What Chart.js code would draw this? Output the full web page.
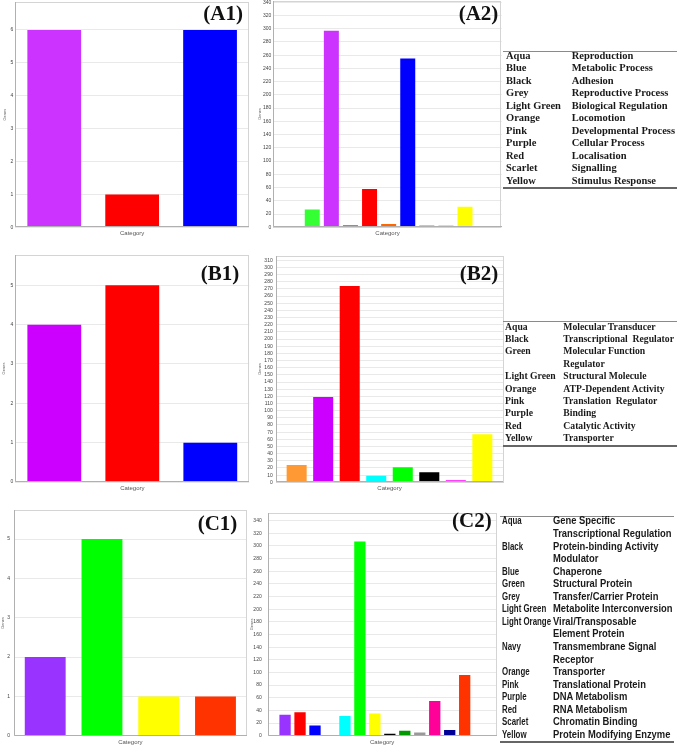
<!DOCTYPE html>
<html><head><meta charset="utf-8">
<script src="https://cdn.jsdelivr.net/npm/chart.js@4/dist/chart.umd.min.js"></script>
<style>
html,body{margin:0;padding:0;background:#fff;width:677px;height:746px;overflow:hidden;position:relative}
canvas{position:absolute}
.plabel{position:absolute;font-family:"Liberation Serif","Times New Roman",serif;font-weight:bold;font-size:21px;line-height:21px;text-align:right;width:80px;color:#111;white-space:nowrap}
.lt{position:absolute;white-space:pre;color:#1a1a1a;font-weight:bold;transform-origin:0 50%}
.rule{position:absolute}
</style>
</head><body>
<script>
// ---------- DATA ----------
const a1Labels = ['Cellular Process','Localisation','Metabolic Process'];
const a1Values = [6, 1, 6];
const a1Colors = ['#cc33ff','#ff0000','#0000ff'];

const a2Labels = ['Adhesion','Biological Regulation','Cellular Process','Developmental Process','Localisation','Locomotion','Metabolic Process','Reproduction','Reproductive Process','Stimulus Response','Signalling'];
const a2Values = [2, 27, 297, 3, 58, 5, 255, 3, 3, 31, 2];
const a2Colors = ['#999999','#33ff33','#cc33ff','#ff00ff','#ff0000','#ff6600','#0000ff','#00ffff','#cccccc','#ffff00','#cc6666'];

const b1Labels = ['Binding','Catalytic Activity','Transporter'];
const b1Values = [4, 5, 1];
const b1Colors = ['#cc00ff','#ff0000','#0000ff'];

const b2Labels = ['ATP-Dependent Activity','Binding','Catalytic Activity','Molecular Transducer','Structural Molecule','Transcriptional Regulator','Translation Regulator','Transporter'];
const b2Values = [24, 119, 274, 9, 21, 14, 3, 67];
const b2Colors = ['#ff9933','#cc00ff','#ff0000','#00ffff','#00ff00','#000000','#ff00ff','#ffff00'];

const c1Labels = ['DNA Metabolism','Metabolite Interconversion','Protein Modifying Enzyme','Transporter'];
const c1Values = [2, 5, 1, 1];
const c1Colors = ['#9933ff','#00ff00','#ffff00','#ff3300'];

const c2Labels = ['DNA Metabolism','RNA Metabolism','Chaperone','Chromatin Binding','Gene Specific Transcriptional Regulation','Metabolite Interconversion','Protein Modifying Enzyme','Protein-binding Activity Modulator','Structural Protein','Transfer/Carrier Protein','Translational Protein','Transmembrane Signal Receptor','Transporter','Viral/Transposable Element Protein'];
const c2Values = [33, 37, 16, 1, 31, 307, 35, 3, 8, 5, 55, 9, 96, 1];
const c2Colors = ['#9933ff','#ff0000','#0000ff','#993333','#00ffff','#00ff00','#ffff00','#000000','#009900','#999999','#ff0099','#000099','#ff3300','#ffcc66'];

const legendA = [['Aqua','Reproduction'],['Blue','Metabolic Process'],['Black','Adhesion'],['Grey','Reproductive Process'],['Light Green','Biological Regulation'],['Orange','Locomotion'],['Pink','Developmental Process'],['Purple','Cellular Process'],['Red','Localisation'],['Scarlet','Signalling'],['Yellow','Stimulus Response']];
const legendB = [['Aqua','Molecular Transducer'],['Black','Transcriptional  Regulator'],['Green','Molecular Function\nRegulator'],['Light Green','Structural Molecule'],['Orange','ATP-Dependent Activity'],['Pink','Translation  Regulator'],['Purple','Binding'],['Red','Catalytic Activity'],['Yellow','Transporter']];
const legendC = [['Aqua','Gene Specific\nTranscriptional Regulation'],['Black','Protein-binding Activity\nModulator'],['Blue','Chaperone'],['Green','Structural Protein'],['Grey','Transfer/Carrier Protein'],['Light Green','Metabolite Interconversion'],['Light Orange','Viral/Transposable\nElement Protein'],['Navy','Transmembrane Signal\nReceptor'],['Orange','Transporter'],['Pink','Translational Protein'],['Purple','DNA Metabolism'],['Red','RNA Metabolism'],['Scarlet','Chromatin Binding'],['Yellow','Protein Modifying Enzyme']];

// ---------- CHARTS ----------
const framePlugin = {
  id: 'frame',
  afterDatasetsDraw(chart) {
    const {ctx, chartArea: a} = chart;
    ctx.save();
    ctx.lineWidth = 1;
    ctx.strokeStyle = '#d4d4d4';
    ctx.strokeRect(Math.round(a.left) + 0.5, Math.round(a.top) + 0.5, Math.round(a.right - a.left) - 1, Math.round(a.bottom - a.top) - 1);
    ctx.strokeStyle = '#b0b0b0';
    ctx.beginPath();
    ctx.moveTo(Math.round(a.left) + 0.5, Math.round(a.top));
    ctx.lineTo(Math.round(a.left) + 0.5, Math.round(a.bottom) - 0.5);
    ctx.lineTo(Math.round(a.right), Math.round(a.bottom) - 0.5);
    ctx.stroke();
    ctx.restore();
  }
};

function build(g, labels, values, colors, yMax, yStep, xMin, xMax, barPct, tickPad) {
  const cx = g.cx, cy = Math.floor(g.pt - 6);
  const cw = Math.ceil(g.pr + 2 - cx), ch = Math.ceil(g.catY + 6 - cy);
  const cv = document.createElement('canvas');
  cv.width = cw; cv.height = ch;
  cv.style.left = cx + 'px'; cv.style.top = cy + 'px';
  cv.style.width = cw + 'px'; cv.style.height = ch + 'px';
  document.body.appendChild(cv);
  const bottomEdge = cy + ch;
  new Chart(cv, {
    type: 'bar',
    data: {
      labels: labels,
      datasets: [{
        data: values.map((v, i) => ({x: i, y: v})),
        backgroundColor: colors,
        borderWidth: 0,
        barPercentage: barPct,
        categoryPercentage: 1
      }]
    },
    options: {
      responsive: false, animation: false, devicePixelRatio: 1,
      layout: {padding: {left: 0, top: g.pt - cy, right: cx + cw - g.pr, bottom: 0}},
      plugins: {legend: {display: false}, tooltip: {enabled: false}},
      scales: {
        x: {
          type: 'linear', min: xMin, max: xMax, offset: false,
          grid: {display: false, offset: false}, border: {display: false},
          ticks: {display: false},
          afterBuildTicks(s) { s.ticks = []; },
          title: {display: true, text: 'Category', color: '#555', font: {size: 6, family: 'Liberation Sans'}, padding: {top: 0, bottom: 6 - 3.6}},
          afterFit(s) { s.height = bottomEdge - g.pb; }
        },
        y: {
          min: 0, max: yMax,
          grid: {color: '#e9e9e9', drawTicks: false}, border: {display: false},
          ticks: {stepSize: yStep, includeBounds: false, color: '#444', font: {size: 5, family: 'Liberation Sans'}, padding: tickPad, autoSkip: false},
          afterBuildTicks(s) { s.ticks = s.ticks.filter(t => Math.abs(t.value / yStep - Math.round(t.value / yStep)) < 1e-6); },
          title: {display: true, text: 'Genes', color: '#555', font: {size: 4, family: 'Liberation Sans'}, padding: {top: g.gx - cx - 2.4, bottom: 0}},
          afterFit(s) { s.width = g.pl - cx; }
        }
      }
    },
    plugins: [framePlugin]
  });
}

build({cx: 0, pl: 15.3, pt: 2, pr: 249, pb: 227.3, gx: 5, catY: 233}, a1Labels, a1Values, a1Colors, 6.85, 1, -0.5, 2.5, 0.69, 2);
build({cx: 252, pl: 273.3, pt: 0.5, pr: 501.7, pb: 227.3, gx: 260, catY: 233}, a2Labels, a2Values, a2Colors, 342.5, 20, -1.04, 10.92, 0.785, 2);
build({cx: 0, pl: 15.3, pt: 255, pr: 249.3, pb: 482, gx: 4, catY: 487.5}, b1Labels, b1Values, b1Colors, 5.77, 1, -0.5, 2.5, 0.69, 2);
build({cx: 252, pl: 275.7, pt: 255.5, pr: 503.3, pb: 482.3, gx: 260, catY: 487.5}, b2Labels, b2Values, b2Colors, 316.6, 10, -0.79, 7.79, 0.755, 3);
build({cx: 0, pl: 14, pt: 509, pr: 246.7, pb: 735.7, gx: 3, catY: 742}, c1Labels, c1Values, c1Colors, 5.74, 1, -0.55, 3.55, 0.72, 4);
build({cx: 249, pl: 267.7, pt: 510, pr: 496.7, pb: 735.7, gx: 252, catY: 742}, c2Labels, c2Values, c2Colors, 352, 20, -1.16, 14.14, 0.755, 6);

// ---------- PANEL LABELS ----------
function panelLabel(text, right, center) {
  const d = document.createElement('div');
  d.className = 'plabel';
  d.textContent = text;
  d.style.left = (right - 80) + 'px';
  d.style.top = (center - 12.2) + 'px';
  document.body.appendChild(d);
}
panelLabel('(A1)', 243, 15);
panelLabel('(A2)', 498.3, 15);
panelLabel('(B1)', 239.3, 275.3);
panelLabel('(B2)', 498.3, 275.3);
panelLabel('(C1)', 237.3, 524.7);
panelLabel('(C2)', 491.7, 522.5);

// ---------- LEGEND TABLES ----------
function legend(rows, o) {
  const rule = (y, x0, x1, h, col) => {
    const r = document.createElement('div');
    r.className = 'rule';
    r.style.left = x0 + 'px'; r.style.width = (x1 - x0) + 'px';
    r.style.top = y + 'px'; r.style.height = h + 'px'; r.style.background = col;
    document.body.appendChild(r);
  };
  rule(o.topRule, o.x0, o.x1, 1, '#8a8a8a');
  let line = 0;
  const text = (s, x, ln, sx) => {
    const d = document.createElement('div');
    d.className = 'lt';
    d.style.fontFamily = o.font; d.style.fontSize = o.size + 'px';
    d.style.lineHeight = o.step + 'px';
    d.style.left = x + 'px';
    d.style.top = (o.first + ln * o.step - o.step / 2) + 'px';
    if (sx) d.style.transform = 'scaleX(' + sx + ')';
    d.textContent = s;
    document.body.appendChild(d);
  };
  rows.forEach(([k, v]) => {
    text(k, o.c1, line, o.sx1);
    const parts = v.split('\n');
    parts.forEach((p, j) => text(p, o.c2, line + j, o.sx2));
    line += parts.length;
  });
  rule(o.botRule, o.x0, o.x1, 2, '#666');
}
const serif = '"Liberation Serif","Times New Roman",serif';
const sans = '"Liberation Sans",Arial,sans-serif';
legend(legendA, {x0: 503, x1: 677, topRule: 51, botRule: 186.5, first: 56, step: 12.5, c1: 506, c2: 571.7, font: serif, size: 10.5});
legend(legendB, {x0: 503, x1: 677, topRule: 321, botRule: 445, first: 326.7, step: 12.4, c1: 505, c2: 563.3, font: serif, size: 9.7});
legend(legendC, {x0: 500, x1: 674, topRule: 516, botRule: 741, first: 520.7, step: 12.56, c1: 501.7, c2: 553.3, font: sans, size: 10.8, sx1: 0.73, sx2: 0.87});
</script>
</body></html>
